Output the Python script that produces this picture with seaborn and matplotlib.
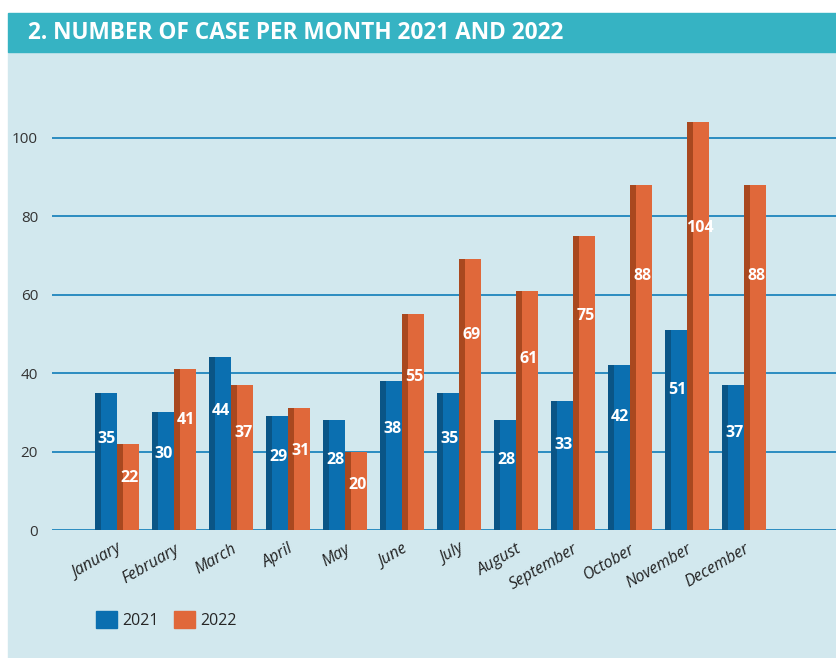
import matplotlib.pyplot as plt
import matplotlib.patches as mpatches
import seaborn as sns
import pandas as pd

# data
months = ['January', 'February', 'March', 'April', 'May', 'June', 'July',
          'August', 'September', 'October', 'November', 'December']
cases_2021 = [35, 30, 44, 29, 28, 38, 35, 28, 33, 42, 51, 37]
cases_2022 = [22, 41, 37, 31, 20, 55, 69, 61, 75, 88, 104, 88]
years = ['2021', '2022']
y_ticks = [0, 20, 40, 60, 80, 100]

front = {'2021': '#0b6fb0', '2022': '#e0683a'}
side = {'2021': '#0a5586', '2022': '#a9481f'}
panel_bg = '#d2e8ee'
title_bg = '#36b3c3'

df = pd.DataFrame({
    'month': months * 2,
    'cases': cases_2021 + cases_2022,
    'year': ['2021'] * 12 + ['2022'] * 12,
})

sns.set_style('white')
plt.rcParams['font.family'] = ['Open Sans', 'DejaVu Sans']

fig = plt.figure(figsize=(8.36, 6.58), dpi=100)
fig.patch.set_facecolor('white')

# light blue panel and title band
W, H = 836, 658
fig.patches.append(mpatches.Rectangle((8 / W, 0), 1 - 8 / W, 1 - 52 / H,
                                      transform=fig.transFigure,
                                      color=panel_bg, zorder=-5))
fig.patches.append(mpatches.Rectangle((8 / W, 1 - 52 / H), 1 - 8 / W, 39 / H,
                                      transform=fig.transFigure,
                                      color=title_bg, zorder=-5))
fig.text(28 / W, 1 - 33 / H, '2. NUMBER OF CASE PER MONTH 2021 AND 2022',
         color='white', fontsize=16.3, fontweight='bold', va='center', ha='left')

ax = fig.add_axes([52 / W, 1 - 530 / H, 1 - 52 / W, (530 - 79) / H])
ax.set_facecolor('none')
ax.set_zorder(2)

sns.barplot(data=df, x='month', y='cases', hue='year', order=months,
            hue_order=years, palette=front, width=0.78, saturation=1,
            legend=False, ax=ax, zorder=3, linewidth=0, edgecolor='none')

# darker left face on every bar for the pseudo-3D look
for cont, yr, vals in zip(ax.containers, years, [cases_2021, cases_2022]):
    for bar, v in zip(cont, vals):
        x0, w = bar.get_x(), bar.get_width()
        ax.add_patch(mpatches.Rectangle((x0, 0), w * 0.28, v,
                                        color=side[yr], zorder=4, lw=0))
        ax.text(x0 + w * 0.55, v * 0.78 - 4, str(v), color='white',
                fontsize=11.5, fontweight='bold', ha='center', va='center',
                zorder=6)

ax.set_ylim(0, 115)
ax.set_xlim(-1.14, 12.61)
ax.set_yticks(y_ticks)
ax.yaxis.grid(True, color='#2b8cc0', lw=1.4, zorder=1)
ax.set_axisbelow(True)
ax.xaxis.grid(False)
for s in ax.spines.values():
    s.set_visible(False)
ax.tick_params(axis='y', length=0, pad=10, labelsize=11, labelcolor='#333333')
ax.tick_params(axis='x', length=0, pad=8, labelsize=11.5, labelcolor='#222222')
plt.setp(ax.get_xticklabels(), rotation=30, ha='right', rotation_mode='anchor',
         fontstyle='italic')
ax.set_xlabel('')
ax.set_ylabel('')

handles = [mpatches.Patch(color=front[y], label=y) for y in years]
fig.legend(handles=handles, loc='center left', bbox_to_anchor=(82 / W, 1 - 620 / H),
           ncol=2, frameon=False, fontsize=11.5, handlelength=1.3, handleheight=1.3,
           handletextpad=0.3, columnspacing=1.0)

fig.savefig('out.png', dpi=100)
